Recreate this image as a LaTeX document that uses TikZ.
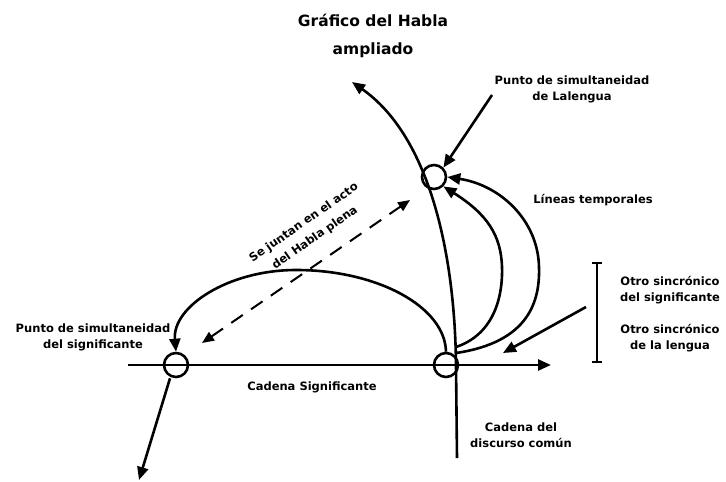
\documentclass[tikz,border=0pt]{standalone}
\usepackage{fontspec}
\setmainfont{DejaVu Sans}
\usetikzlibrary{arrows.meta}
\tikzset{
  lbl/.style={font=\bfseries\fontsize{11.5}{16}\selectfont, align=center, inner sep=0pt},
  ttl/.style={font=\bfseries\fontsize{15.5}{28}\selectfont, align=center, inner sep=0pt},
  ring/.style={circle, draw, line width=2.6pt, minimum size=24pt, inner sep=0pt},
  thick line/.style={line width=2.6pt},
  arr/.style={thick line, -{Triangle[length=13pt,width=11pt]}},
  dasharr/.style={line width=2pt, dash pattern=on 14pt off 10pt, {Triangle[length=12pt,width=10pt]}-{Triangle[length=12pt,width=10pt]}}
}
\begin{document}
\begin{tikzpicture}[x=1pt,y=-1pt]
\useasboundingbox (0,0) rectangle (726,482);
% title
\node[ttl] (title) at (373,36) {Gráfico del Habla\\ampliado};
% circles
\node[ring] (cl) at (176,365) {};
\node[ring] (cr) at (446,365) {};
\node[ring] (ct) at (434,177) {};
% coordinates
\coordinate (hs) at (128,365);
\coordinate (he) at (551,365);
\coordinate (vb) at (457,458);
\coordinate (vm) at (456,365);
\coordinate (vt) at (352,82);
\coordinate (dl) at (139,480);
% horizontal chain
\draw[arr] (hs) -- (he);
% vertical chain (Lalengua)
\draw[thick line] (vb) -- (vm);
\draw[arr] (vm) .. controls (455,260) and (432,138) .. (vt);
% down-left arrow
\draw[arr] (cl.south) ++(-6,0) coordinate (cls) (cls) -- (dl);
% big arc
\draw[arr] (cr.north) .. controls (445,307) and (378,270) .. (296,270)
   .. controls (228,270) and (172,307) .. (cl.north);
% temporal lines
\draw[arr] (456,347) coordinate (ti) .. controls (492,335) and (503,300) .. (502,267)
   .. controls (501,235) and (487,214) .. (ct.south east);
\draw[arr] (456,353) coordinate (to) .. controls (530,342) and (540,300) .. (539,267)
   .. controls (538,220) and (500,185) .. (ct.east);
% dashed
\coordinate (dsa) at (202,343);
\coordinate (dsb) at (410,200);
\draw[dasharr] (dsa) -- (dsb);
% label arrows
\coordinate (pa) at (492,95);
\draw[arr] (pa) -- (ct.north east);
\coordinate (oa) at (586,307);
\coordinate (ob) at (503,353);
\draw[arr] (oa) -- (ob);
% bracket
\coordinate (bt) at (597,263);
\coordinate (bb) at (597,362);
\draw[line width=1.4pt] (bt) -- (bb);
\draw[line width=1.4pt] ([xshift=-5pt]bt) -- ([xshift=5pt]bt);
\draw[line width=1.4pt] ([xshift=-5pt]bb) -- ([xshift=5pt]bb);
% labels
\node[lbl] (l1) at (572,89) {Punto de simultaneidad\\de Lalengua};
\node[lbl] (l2) at (593,200) {Líneas temporales};
\node[lbl] (l3) at (93,337) {Punto de simultaneidad\\del significante};
\node[lbl] (l4) at (312,387) {Cadena Significante};
\node[lbl] (l5) at (521,435) {Cadena del\\discurso común};
\node[lbl] (l6) at (670,290) {Otro sincrónico\\del significante};
\node[lbl] (l7) at (670,338) {Otro sincrónico\\de la lengua};
\node[lbl, rotate=35] (l8a) at (304,223) {Se juntan en el acto};
\node[lbl, rotate=35] (l8b) at (315,238) {del Habla plena};
\end{tikzpicture}
\end{document}
